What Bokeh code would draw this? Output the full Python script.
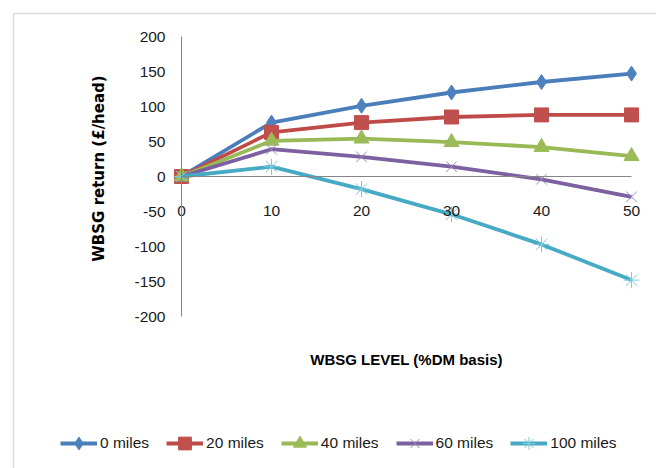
import math
from bokeh.plotting import figure
from bokeh.models import Range1d, FixedTicker, Legend, LegendItem, BoxAnnotation, LinearAxis, Label
from bokeh.embed import file_html
from bokeh.resources import INLINE

# ---- data ----
levels = [0, 10, 20, 30, 40, 50]
series_names = ["0 miles", "20 miles", "40 miles", "60 miles", "100 miles"]
miles_0 = [0, 77, 101, 120, 135, 147]
miles_20 = [0, 63, 77, 85, 88, 88]
miles_40 = [0, 51, 54, 49, 42, 29]
miles_60 = [0, 39, 28, 14, -4, -29]
miles_100 = [0, 14, -18, -54, -97, -148]
y_ticks = [-200, -150, -100, -50, 0, 50, 100, 150, 200]
x_ticks = [0, 10, 20, 30, 40, 50]
x_title = "WBSG LEVEL (%DM basis)"
y_title = "WBSG return (£/head)"

series = [miles_0, miles_20, miles_40, miles_60, miles_100]
line_colors = ["#4A7EBB", "#BE4B48", "#98B954", "#7D60A0", "#46AAC5"]
marker_fill = ["#4F81BD", "#C0504D", "#9BBB59", None, None]
marker_line = ["#4F81BD", "#C0504D", "#9BBB59", "#9C87C2", "#7CC8DD"]
markers = ["diamond", "square", "triangle", "x", "asterisk"]
marker_sizes = [15, 14, 15, 15, 16]

FONT = "Liberation Sans"

# The frame fills the whole canvas (annotations outside the frame are clipped),
# so the ranges are chosen to place x=0 / y=0 where the reference has them.
W, H = 656, 468
X0_PX, PX_PER_X = 181.0, 9.0
Y0_PX, PX_PER_Y = 176.0, 0.7
x_range = Range1d(-X0_PX / PX_PER_X, (W - X0_PX) / PX_PER_X)
y_range = Range1d(-(H - Y0_PX) / PX_PER_Y, Y0_PX / PX_PER_Y)

p = figure(width=W, height=H, output_backend="svg", toolbar_location=None,
           x_range=x_range, y_range=y_range,
           x_axis_type=None, y_axis_type=None,
           min_border_left=0, min_border_right=0, min_border_top=0, min_border_bottom=0)
p.outline_line_color = None
p.background_fill_color = "white"
p.border_fill_color = "white"

yaxis = LinearAxis(ticker=FixedTicker(ticks=y_ticks), fixed_location=0, bounds=(-200, 200))
yaxis.axis_line_color = "#868686"
yaxis.major_tick_line_color = None
yaxis.minor_tick_line_color = None
yaxis.major_tick_out = 0
yaxis.major_tick_in = 0
yaxis.major_label_standoff = 16
yaxis.major_label_text_font = FONT
yaxis.major_label_text_font_size = "15.5px"
yaxis.major_label_text_color = "#1a1a1a"
yaxis.major_label_overrides = {t: str(t) for t in y_ticks}
p.add_layout(yaxis, "left")

xaxis = LinearAxis(ticker=FixedTicker(ticks=x_ticks), fixed_location=0, bounds=(0, 50))
xaxis.axis_line_color = "#868686"
xaxis.major_tick_line_color = None
xaxis.minor_tick_line_color = None
xaxis.major_tick_out = 0
xaxis.major_tick_in = 0
xaxis.major_label_standoff = 29
xaxis.major_label_text_font = FONT
xaxis.major_label_text_font_size = "15.5px"
xaxis.major_label_text_color = "#1a1a1a"
p.add_layout(xaxis, "below")

# axis titles
p.add_layout(Label(x=25, y=(Y0_PX - 359) / PX_PER_Y, text=x_title,
                   text_font=FONT, text_font_style="bold", text_font_size="15px",
                   text_color="#000000", text_align="center", text_baseline="middle"))
p.add_layout(Label(x=(98 - X0_PX) / PX_PER_X, y=(Y0_PX - 168) / PX_PER_Y, text=y_title,
                   angle=math.pi / 2,
                   text_font="DejaVu Sans", text_font_style="bold", text_font_size="15px",
                   text_color="#000000", text_align="center", text_baseline="middle"))

items = []
for name, ys, lc, mf, ml, mk, ms in zip(series_names, series, line_colors, marker_fill,
                                        marker_line, markers, marker_sizes):
    lr = p.line(levels, ys, line_color=lc, line_width=3.8)
    sr = p.scatter(levels, ys, marker=mk, size=ms, fill_color=mf, line_color=ml, line_width=1)
    items.append(LegendItem(label=name, renderers=[lr, sr]))

legend = Legend(items=items, orientation="horizontal", location=(60, 9))
legend.padding = 0
legend.margin = 0
legend.spacing = 17
legend.glyph_width = 37
legend.glyph_height = 32
legend.label_standoff = 3
legend.label_text_font = FONT
legend.label_text_font_size = "15.5px"
legend.label_text_color = "#1a1a1a"
legend.border_line_color = None
legend.background_fill_alpha = 0
p.add_layout(legend, "center")

# chart-area border (left and top edges visible, the rest runs off the page)
border = BoxAnnotation(left=(13 - X0_PX) / PX_PER_X, right=80,
                       top=(Y0_PX - 13) / PX_PER_Y, bottom=-700,
                       fill_alpha=0, line_color="#8c8c8c", line_width=1.5)
p.add_layout(border)

open("out.html", "w").write(file_html(p, INLINE))
